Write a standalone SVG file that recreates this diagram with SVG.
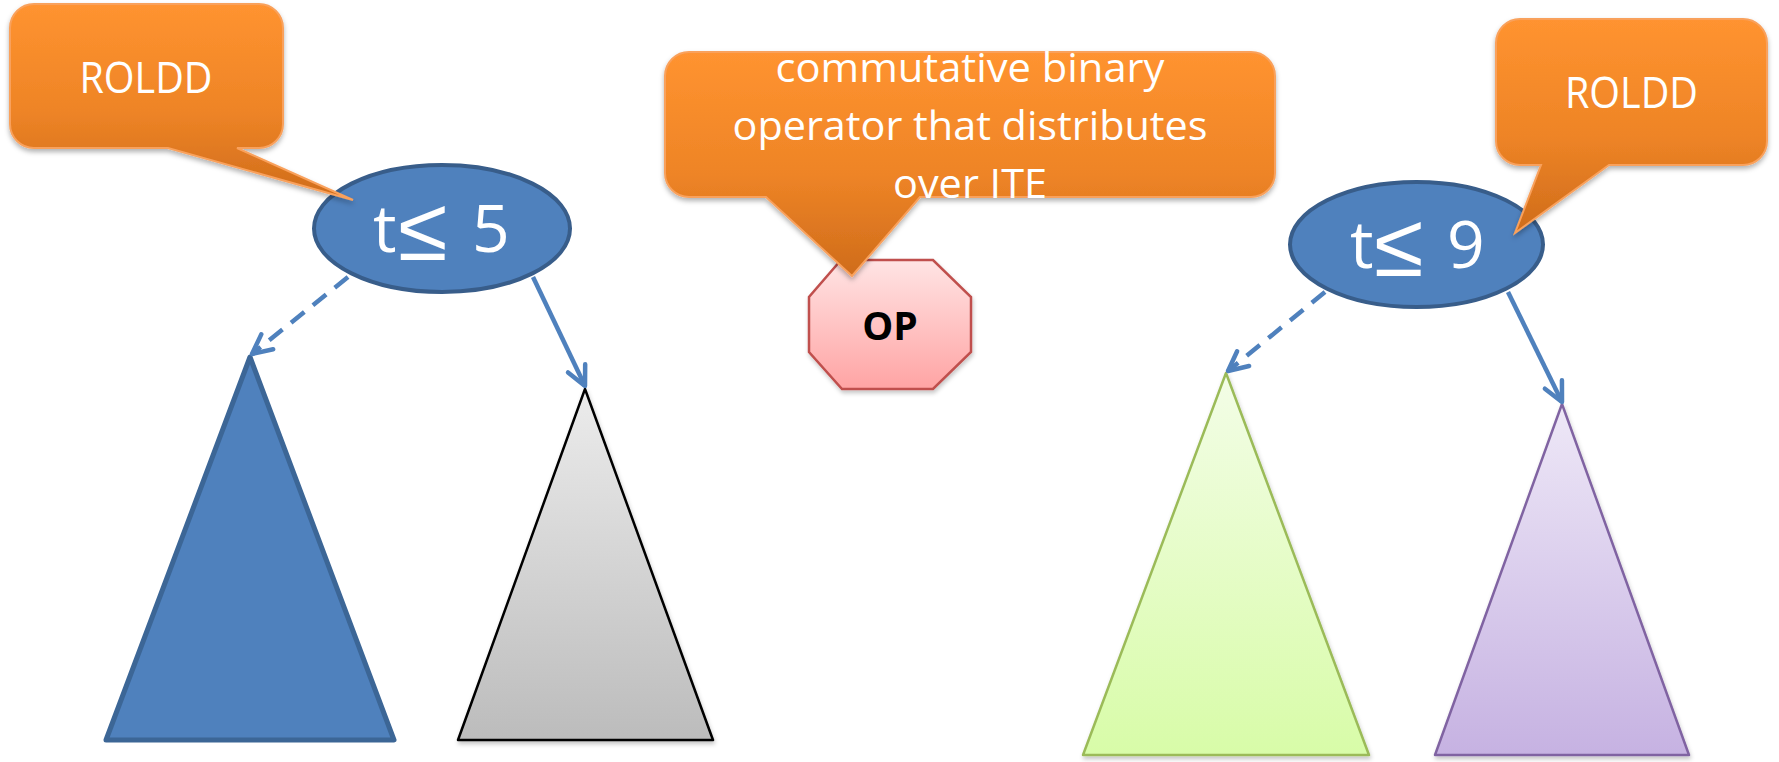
<svg xmlns="http://www.w3.org/2000/svg" width="1779" height="762" viewBox="0 0 1779 762">
  <defs>
    <style>
      .callout { fill: url(#gOrange); stroke: #f9a15c; stroke-width: 2; filter: url(#shadow); }
      .ctext { fill: #ffffff; font-family: "Open Sans", "Liberation Sans", sans-serif; text-anchor: middle; }
      .cond { fill: #4f81bd; stroke: #385d8a; stroke-width: 4; }
      .ntext { fill: #ffffff; font-family: "Open Sans", "Liberation Sans", sans-serif; font-size: 66px; }
      .sym { font-family: "DejaVu Sans", sans-serif; font-weight: 200; font-size: 90px; }
      .edge { fill: none; stroke: #4f81bd; stroke-width: 4.5; marker-end: url(#arrow); }
      .dash { stroke-dasharray: 17 11; }
      .tri { stroke-linejoin: round; }
    </style>
    <linearGradient id="gOrange" x1="0" y1="0" x2="0" y2="1">
      <stop offset="0" stop-color="#ff9330"/>
      <stop offset="0.55" stop-color="#ee8426"/>
      <stop offset="1" stop-color="#cf6c1b"/>
    </linearGradient>
    <linearGradient id="gPink" x1="0" y1="0" x2="0" y2="1">
      <stop offset="0" stop-color="#ffe4e4"/>
      <stop offset="1" stop-color="#ffa4a4"/>
    </linearGradient>
    <linearGradient id="gGray" x1="0" y1="0" x2="0" y2="1">
      <stop offset="0" stop-color="#ececec"/>
      <stop offset="1" stop-color="#bcbcbc"/>
    </linearGradient>
    <linearGradient id="gGreen" x1="0" y1="0" x2="0" y2="1">
      <stop offset="0" stop-color="#f3fde7"/>
      <stop offset="1" stop-color="#d8fca8"/>
    </linearGradient>
    <linearGradient id="gPurple" x1="0" y1="0" x2="0" y2="1">
      <stop offset="0" stop-color="#eee8f7"/>
      <stop offset="1" stop-color="#c6b2e2"/>
    </linearGradient>
    <filter id="shadow" x="-10%" y="-10%" width="120%" height="130%">
      <feDropShadow dx="0" dy="3" stdDeviation="2.5" flood-color="#000" flood-opacity="0.3"/>
    </filter>
    <filter id="softShadow" x="-10%" y="-10%" width="120%" height="120%">
      <feDropShadow dx="1" dy="3" stdDeviation="2" flood-color="#000" flood-opacity="0.22"/>
    </filter>
    <marker id="arrow" viewBox="0 0 22 20" refX="20" refY="10" markerWidth="22" markerHeight="20" markerUnits="userSpaceOnUse" orient="auto" overflow="visible">
      <path d="M0.5,0.5 L20,10 L0.5,19.5" fill="none" stroke="#4f81bd" stroke-width="4.5" stroke-linecap="round" stroke-linejoin="round"/>
    </marker>
  </defs>

  <!-- subtrees -->
  <g id="tree-blue">
    <polygon class="tri" points="250,357 394,740 106,740" fill="#4f81bd" stroke="#3c6696" stroke-width="5"/>
  </g>
  <g id="tree-gray">
    <polygon class="tri" points="585,389 713,740 458,740" fill="url(#gGray)" stroke="#000000" stroke-width="2.5" filter="url(#softShadow)"/>
  </g>
  <g id="tree-green">
    <polygon class="tri" points="1226,373 1369,755 1083,755" fill="url(#gGreen)" stroke="#9bbb59" stroke-width="2.5" filter="url(#softShadow)"/>
  </g>
  <g id="tree-purple">
    <polygon class="tri" points="1562,404 1689,755 1435,755" fill="url(#gPurple)" stroke="#8064a2" stroke-width="2.5" filter="url(#softShadow)"/>
  </g>

  <!-- edges from the condition nodes to their subtrees -->
  <g id="connectors">
    <line class="edge dash" x1="348" y1="277" x2="252" y2="354"/>
    <line class="edge" x1="533" y1="277" x2="585" y2="386"/>
    <line class="edge dash" x1="1325" y1="292" x2="1228" y2="371"/>
    <line class="edge" x1="1508" y1="292" x2="1562" y2="402"/>
  </g>

  <!-- condition nodes -->
  <g id="cond-left">
    <ellipse class="cond" cx="442" cy="228.5" rx="128" ry="63.5"/>
    <text class="ntext" y="252"><tspan x="373">t</tspan><tspan class="sym" x="398" dy="8">≤</tspan><tspan x="472" dy="-8">5</tspan></text>
  </g>
  <g id="cond-right">
    <ellipse class="cond" cx="1416.5" cy="244.5" rx="126.5" ry="62.5"/>
    <text class="ntext" y="268"><tspan x="1350">t</tspan><tspan class="sym" x="1374" dy="8">≤</tspan><tspan x="1447" dy="-8">9</tspan></text>
  </g>

  <!-- operator node -->
  <g id="op">
    <polygon points="841,260 933,260 971,297 971,352 933,389 842,389 809,352 809,297" fill="url(#gPink)" stroke="#c0504d" stroke-width="2.5" filter="url(#softShadow)"/>
    <text x="890" y="340" font-family="'Open Sans', 'Liberation Sans', sans-serif" font-weight="bold" font-size="39" text-anchor="middle" fill="#000000">OP</text>
  </g>

  <!-- callouts -->
  <g id="callout-left">
    <path class="callout" d="M34,4 H259 A24,24 0 0 1 283,28 V124 A24,24 0 0 1 259,148 H237 L353,200 L168,148 H34 A24,24 0 0 1 10,124 V28 A24,24 0 0 1 34,4 Z"/>
    <text class="ctext" x="146" y="93" font-size="44" textLength="133" lengthAdjust="spacingAndGlyphs">ROLDD</text>
  </g>
  <g id="callout-op">
    <path class="callout" d="M689,52 H1251 A24,24 0 0 1 1275,76 V173 A24,24 0 0 1 1251,197 H920 L852,276 L766,197 H689 A24,24 0 0 1 665,173 V76 A24,24 0 0 1 689,52 Z"/>
    <text class="ctext" x="970" y="82" font-size="41" textLength="389" lengthAdjust="spacingAndGlyphs">commutative binary</text>
    <text class="ctext" x="970" y="140" font-size="41" textLength="475" lengthAdjust="spacingAndGlyphs">operator that distributes</text>
    <text class="ctext" x="970" y="198" font-size="41" textLength="154" lengthAdjust="spacingAndGlyphs">over ITE</text>
  </g>
  <g id="callout-right">
    <path class="callout" d="M1520,19 H1743 A24,24 0 0 1 1767,43 V141 A24,24 0 0 1 1743,165 H1609 L1515,233 L1541,165 H1520 A24,24 0 0 1 1496,141 V43 A24,24 0 0 1 1520,19 Z"/>
    <text class="ctext" x="1631.5" y="108" font-size="44" textLength="133" lengthAdjust="spacingAndGlyphs">ROLDD</text>
  </g>
</svg>
